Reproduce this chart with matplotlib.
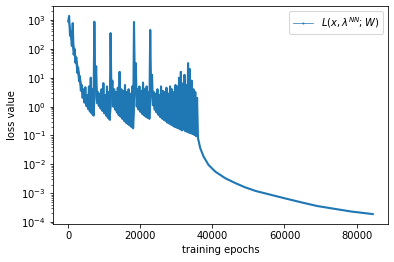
import numpy as np
import matplotlib
matplotlib.use("Agg")
import matplotlib.pyplot as plt
from matplotlib.lines import Line2D

# Noisy phase: sampled every 500 epochs; lower envelope at the sample epoch,
# upper (spike) value half a step later, and the top of the dense band (read from the picture)
noisy_epochs = list(range(0, 36000, 500))
noisy_low = [891, 282, 126, 63.1, 33.1, 14.8, 7.59, 3.55, 2.0, 1.38, 1.05, 0.83, 0.68, 0.575, 0.49,
             3.55, 1.32, 1.05, 0.85, 0.71, 0.59, 0.49, 0.41, 0.35,
             2.24, 1.0, 0.79, 0.63, 0.51, 0.45, 0.38, 0.32, 0.28, 0.25, 0.224, 0.2, 0.178,
             3.98, 1.0, 0.79, 0.66, 0.56, 0.5, 0.45, 0.41, 0.38,
             3.16, 1.12, 0.78, 0.63, 0.52, 0.44, 0.39, 0.35, 0.32, 0.28, 0.26, 0.24, 0.22, 0.2,
             0.19, 0.178, 0.166, 0.151, 0.166, 0.141, 0.135, 0.126, 0.12, 0.112, 0.105, 0.095]
noisy_high = [1380, 398, 776, 100, 50, 22.4, 11.2, 5.6, 4.0, 4.7, 2.5, 5.0, 10, 4.0, 870,
              25, 3.2, 2.8, 4.0, 6.5, 2.5, 5.0, 3.2, 350,
              7.9, 4.0, 3.2, 4.5, 16, 4.0, 3.5, 5.6, 3.2, 4.0, 2.8, 5.0, 850,
              32, 4.0, 5.0, 3.5, 6.8, 4.0, 5.0, 3.2, 450,
              12.6, 3.2, 2.8, 4.0, 2.5, 5.0, 3.5, 3.2, 4.5, 2.8, 5.0, 4.0, 3.2, 5.6,
              5.0, 10, 16, 6.3, 12.6, 5.6, 32, 20, 7.9, 4.0, 3.2, 2.0]
noisy_top = [1200, 500, 250, 120, 60, 30, 14, 6.5, 3.5, 2.4, 2.0, 1.8, 1.7, 1.6, 1.5,
             10, 2.5, 2.1, 1.9, 1.8, 1.7, 1.6, 1.5, 1.4,
             5, 2.8, 2.4, 2.2, 2.1, 2.0, 1.9, 1.8, 1.7, 1.6, 1.5, 1.4, 1.3,
             10, 2.8, 2.4, 2.2, 2.1, 2.0, 1.9, 1.8, 1.7,
             6, 2.8, 2.4, 2.3, 2.2, 2.2, 2.1, 2.1, 2.0, 2.0, 2.0, 2.0, 2.0, 2.0,
             2.0, 2.1, 2.2, 2.2, 2.3, 2.3, 2.4, 2.4, 2.3, 2.2, 2.0, 1.5]

# Smooth phase after the last restart
smooth_epochs = [36000, 36640, 37560, 38950, 40810, 43600, 46390, 49000, 52000,
                 55220, 59840, 64500, 69150, 73770, 78430, 84500]
smooth_loss = [0.081, 0.036, 0.0186, 0.0095, 0.0056, 0.0033, 0.00224, 0.00162, 0.0012,
               0.00095, 0.00068, 0.00049, 0.00036, 0.00029, 0.000234, 0.00019]

half_step = 250
x = []
y = []
for e, lo, hi in zip(noisy_epochs, noisy_low, noisy_high):
    x += [e, e + half_step]
    y += [lo, hi]
x += smooth_epochs
y += smooth_loss

fig = plt.figure(figsize=(394 / 72, 262 / 72), dpi=72)
ax = fig.add_axes([53 / 394, 38 / 262, 335 / 394, 218 / 262])
ax.fill_between(noisy_epochs, noisy_low, noisy_top, color="C0", lw=0.8)
ax.plot(x, y, color="C0", lw=2.1)
ax.set_yscale("log")
ax.set_xlabel("training epochs")
ax.set_ylabel("loss value")
ax.set_xticks([0, 20000, 40000, 60000, 80000])

handle = Line2D([], [], color="C0", lw=0.7, marker=".", markersize=2)
ax.legend([handle], [r"$L(x, \lambda^{NN}; W)$"], loc="upper right")

fig.savefig("out.png", dpi=72)
